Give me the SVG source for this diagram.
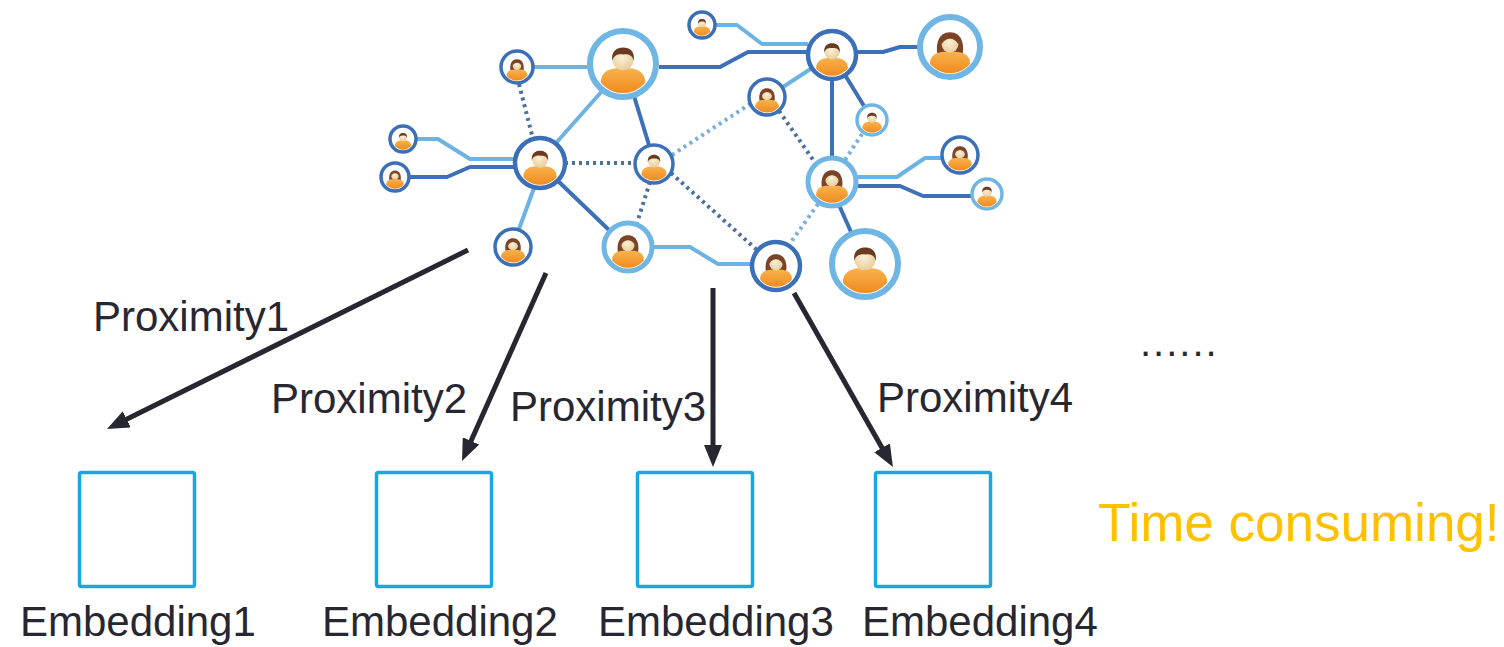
<svg xmlns="http://www.w3.org/2000/svg" xmlns:xlink="http://www.w3.org/1999/xlink" width="1504" height="647" viewBox="0 0 1504 647">
  <style>
    .lbl { font-family: "Liberation Sans", Arial, sans-serif; font-size: 42px; fill: #272731; }
    .warn { font-family: "Liberation Sans", Arial, sans-serif; font-size: 53px; fill: #ffc000; }
    .box { fill: #ffffff; stroke: #14a9e4; stroke-width: 3.5; }
    .ringD { fill: #ffffff; stroke: #3b6fb6; }
    .ringL { fill: #ffffff; stroke: #6fb6e5; }
    .solidL { fill: none; stroke: #6db3e2; stroke-width: 4; stroke-linejoin: round; }
    .solidD { fill: none; stroke: #3d70b7; stroke-width: 4; stroke-linejoin: round; }
    .dotD { fill: none; stroke: #4d6f9c; stroke-width: 4; stroke-dasharray: 3 4; }
    .dotL { fill: none; stroke: #7aafd6; stroke-width: 4; stroke-dasharray: 3 4; }
    .arrow { fill: none; stroke: #272731; stroke-width: 5; marker-end: url(#head); }
  </style>
  <defs>
    <marker id="head" markerUnits="userSpaceOnUse" viewBox="0 0 22 18" markerWidth="22" markerHeight="18" refX="12" refY="9" orient="auto">
      <path d="M0,0 L22,9 L0,18 Z" fill="#272731"/>
    </marker>
    <linearGradient id="bodyFill" x1="0" y1="0" x2="0" y2="1">
      <stop offset="0" stop-color="#f9b24c"/>
      <stop offset="1" stop-color="#ef8a1e"/>
    </linearGradient>
    <radialGradient id="faceFill" cx="0.45" cy="0.4" r="0.6">
      <stop offset="0" stop-color="#fbefd6"/>
      <stop offset="1" stop-color="#e9cf9c"/>
    </radialGradient>
    <clipPath id="inner" clipPathUnits="userSpaceOnUse">
      <circle cx="0" cy="0" r="0.97"/>
    </clipPath>
    <!-- person glyphs drawn in a unit circle -->
    <g id="male">
      <g clip-path="url(#inner)">
        <path d="M -0.74 1 L -0.74 0.6 C -0.74 0.3 -0.48 0.14 -0.2 0.14 L 0.2 0.14 C 0.48 0.14 0.74 0.3 0.74 0.6 L 0.74 1 Z" fill="url(#bodyFill)"/>
      </g>
      <circle cx="0" cy="-0.14" r="0.35" fill="url(#faceFill)"/>
      <path d="M -0.36 -0.1 C -0.4 -0.44 -0.2 -0.55 0 -0.55 C 0.22 -0.55 0.4 -0.44 0.36 -0.1 C 0.32 -0.3 0.16 -0.34 0.02 -0.32 C -0.14 -0.35 -0.32 -0.3 -0.36 -0.1 Z" fill="#6a3b20"/>
    </g>
    <g id="female">
      <path d="M -0.46 0.3 C -0.54 -0.1 -0.44 -0.55 0 -0.55 C 0.44 -0.55 0.54 -0.1 0.46 0.3 Z" fill="#7b4427"/>
      <g clip-path="url(#inner)">
        <path d="M -0.74 1 L -0.74 0.6 C -0.74 0.3 -0.48 0.18 -0.2 0.18 L 0.2 0.18 C 0.48 0.18 0.74 0.3 0.74 0.6 L 0.74 1 Z" fill="url(#bodyFill)"/>
      </g>
      <circle cx="0" cy="-0.1" r="0.31" fill="url(#faceFill)"/>
      <path d="M -0.32 -0.08 C -0.33 -0.38 -0.17 -0.46 0 -0.46 C 0.17 -0.46 0.33 -0.38 0.32 -0.08 C 0.23 -0.27 0.08 -0.31 0 -0.31 C -0.08 -0.31 -0.23 -0.27 -0.32 -0.08 Z" fill="#7b4427"/>
    </g>
  </defs>

  <rect width="1504" height="647" fill="#ffffff"/>

  <g id="connectors">
    <!-- social graph links -->
    <g id="links">
      <path class="solidL" d="M 416 139 L 438 139 L 470 159 L 516 159"/>
      <path class="solidL" d="M 533 67 L 590 67"/>
      <path class="solidL" d="M 556 143 L 603 90"/>
      <path class="solidL" d="M 534 188 L 519 229"/>
      <path class="solidL" d="M 652 247 L 690 247 L 718 264 L 753 264"/>
      <path class="solidL" d="M 715 25 L 737 25 L 762 44 L 808 44"/>
      <path class="solidL" d="M 812 68 L 783 87"/>
      <path class="solidL" d="M 856 177 L 897 177 L 925 158 L 942 158"/>

      <path class="solidD" d="M 409 177 L 447 177 L 470 167 L 516 167"/>
      <path class="solidD" d="M 634 96 L 649 145"/>
      <path class="solidD" d="M 558 181 L 609 230"/>
      <path class="solidD" d="M 659 67 L 720 67 L 748 52 L 808 52"/>
      <path class="solidD" d="M 856 52 L 883 52 L 900 47 L 920 47"/>
      <path class="solidD" d="M 845 75 L 864 106"/>
      <path class="solidD" d="M 832 79 L 832 158"/>
      <path class="solidD" d="M 856 186 L 900 186 L 923 196 L 972 196"/>
      <path class="solidD" d="M 839 205 L 851 232"/>

      <path class="dotD" d="M 519 84 L 533 139"/>
      <path class="dotD" d="M 565 163 L 635 163"/>
      <path class="dotD" d="M 650 182 L 637 223"/>
      <path class="dotD" d="M 671 173 L 757 250"/>
      <path class="dotD" d="M 779 111 L 816 164"/>

      <path class="dotL" d="M 672 155 L 750 104"/>
      <path class="dotL" d="M 862 134 L 845 160"/>
      <path class="dotL" d="M 818 204 L 791 242"/>
    </g>
    <!-- proximity arrows -->
    <g id="arrows">
      <path class="arrow" d="M 468 250 L 116 424.6"/>
      <path class="arrow" d="M 546 273 L 466.1 451.9"/>
      <path class="arrow" d="M 713 288 L 713 457"/>
      <path class="arrow" d="M 794 293 L 888 458.3"/>
    </g>
  </g>

  <!-- people -->
  <g id="p1"><circle class="ringD" cx="517" cy="67" r="16" stroke-width="3.5"/><use href="#female" transform="translate(517 67) scale(14)"/></g>
  <g id="p2"><circle class="ringL" cx="623" cy="64" r="33" stroke-width="6"/><use href="#male" transform="translate(623 64) scale(30)"/></g>
  <g id="p3"><circle class="ringD" cx="403" cy="139" r="13" stroke-width="3.5"/><use href="#male" transform="translate(403 139) scale(11)"/></g>
  <g id="p4"><circle class="ringD" cx="395" cy="177" r="14" stroke-width="3.5"/><use href="#female" transform="translate(395 177) scale(12)"/></g>
  <g id="p5"><circle class="ringD" cx="540" cy="163" r="25" stroke-width="4.5"/><use href="#male" transform="translate(540 163) scale(22.5)"/></g>
  <g id="p6"><circle class="ringD" cx="654" cy="164" r="19" stroke-width="3.5"/><use href="#male" transform="translate(654 164) scale(17)"/></g>
  <g id="p7"><circle class="ringD" cx="513" cy="247" r="18" stroke-width="3.5"/><use href="#female" transform="translate(513 247) scale(16)"/></g>
  <g id="p8"><circle class="ringL" cx="628" cy="247" r="24" stroke-width="5"/><use href="#female" transform="translate(628 247) scale(21.5)"/></g>
  <g id="p9"><circle class="ringD" cx="702" cy="25" r="13" stroke-width="3.5"/><use href="#male" transform="translate(702 25) scale(11)"/></g>
  <g id="p10"><circle class="ringD" cx="832" cy="55" r="24" stroke-width="4.5"/><use href="#male" transform="translate(832 55) scale(21.5)"/></g>
  <g id="p11"><circle class="ringL" cx="950" cy="47" r="30" stroke-width="6"/><use href="#female" transform="translate(950 47) scale(27)"/></g>
  <g id="p12"><circle class="ringD" cx="767" cy="97" r="18" stroke-width="3.5"/><use href="#female" transform="translate(767 97) scale(16)"/></g>
  <g id="p13"><circle class="ringL" cx="872" cy="120" r="15" stroke-width="3.5"/><use href="#male" transform="translate(872 120) scale(13)"/></g>
  <g id="p14"><circle class="ringL" cx="832" cy="182" r="24" stroke-width="5"/><use href="#female" transform="translate(832 182) scale(21.5)"/></g>
  <g id="p15"><circle class="ringD" cx="960" cy="155" r="18" stroke-width="3.5"/><use href="#female" transform="translate(960 155) scale(16)"/></g>
  <g id="p16"><circle class="ringL" cx="987" cy="194" r="15" stroke-width="3.5"/><use href="#male" transform="translate(987 194) scale(13)"/></g>
  <g id="p17"><circle class="ringD" cx="776" cy="266" r="24" stroke-width="4.5"/><use href="#female" transform="translate(776 266) scale(21.5)"/></g>
  <g id="p18"><circle class="ringL" cx="865" cy="264" r="33" stroke-width="6"/><use href="#male" transform="translate(865 264) scale(30)"/></g>

  <!-- labels on the arrows -->
  <g id="prox-labels">
    <text class="lbl" x="93" y="331">Proximity1</text>
    <text class="lbl" x="271" y="413">Proximity2</text>
    <text class="lbl" x="510" y="421">Proximity3</text>
    <text class="lbl" x="877" y="412">Proximity4</text>
  </g>

  <!-- embedding boxes -->
  <g id="emb1"><rect class="box" x="79.5" y="472.5" width="115" height="114" rx="2"/><text class="lbl" x="20" y="636">Embedding1</text></g>
  <g id="emb2"><rect class="box" x="376.5" y="472.5" width="115" height="114" rx="2"/><text class="lbl" x="322" y="636">Embedding2</text></g>
  <g id="emb3"><rect class="box" x="637.5" y="472.5" width="115" height="114" rx="2"/><text class="lbl" x="598" y="636">Embedding3</text></g>
  <g id="emb4"><rect class="box" x="875.5" y="472.5" width="115" height="114" rx="2"/><text class="lbl" x="862" y="636">Embedding4</text></g>

  <g id="notes">
    <text class="lbl" x="1140" y="356" style="font-size:40px; letter-spacing:2px">......</text>
    <text class="warn" x="1098" y="541">Time consuming!</text>
  </g>
</svg>
